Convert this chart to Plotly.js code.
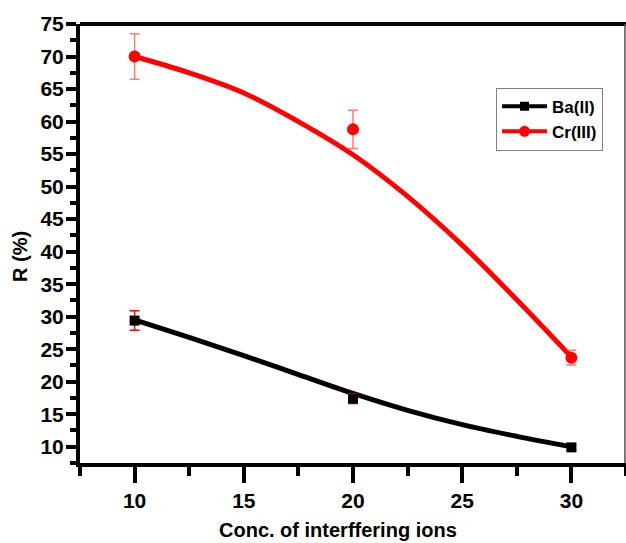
<!DOCTYPE html>
<html>
<head>
<meta charset="utf-8">
<script src="https://cdn.plot.ly/plotly-3.0.1.min.js"></script>
<style>html,body{margin:0;padding:0;background:#fff;}#chart{width:626px;height:543px;}</style>
</head>
<body>
<div id="chart"></div>
<script>
// measured data
var conc = [10, 20, 30];
var baR = [29.4, 17.4, 9.9];
var baErr = [1.5, 0.75, 0.4];
var crR = [70.0, 58.8, 23.7];
var crErr = [3.5, 2.95, 1.15];

// fitted curves
var fitX = [10, 12.5, 15, 17.5, 20, 22.5, 25, 27.5, 30];
var baFit = [29.5, 26.8, 24.0, 21.1, 18.2, 15.6, 13.4, 11.6, 10.0];
var crFit = [70.0, 67.5, 64.4, 60.0, 54.9, 48.5, 41.0, 32.6, 23.8];

var seriesNames = ['Ba(II)', 'Cr(III)'];
var xTitle = 'Conc. of interffering ions';
var yTitle = 'R (%)';

var FONT = 'Arial, "Liberation Sans", sans-serif';

var traces = [
  {x: fitX, y: baFit, mode: 'lines', line: {color: '#000', width: 5, shape: 'spline', smoothing: 1}, showlegend: false, hoverinfo: 'skip'},
  {x: fitX, y: crFit, mode: 'lines', line: {color: '#ff0000', width: 5, shape: 'spline', smoothing: 1}, showlegend: false, hoverinfo: 'skip'},
  {x: conc, y: baR, mode: 'markers', marker: {symbol: 'square', size: 10, color: '#000'},
   error_y: {type: 'data', array: baErr, visible: true, color: '#ff0000', thickness: 1.5, width: 5}, showlegend: false},
  {x: conc, y: crR, mode: 'markers', marker: {symbol: 'circle', size: 12, color: '#ff0000'},
   error_y: {type: 'data', array: crErr, visible: true, color: 'rgba(255,80,80,0.75)', thickness: 1.5, width: 5}, showlegend: false},
  {x: [null], y: [null], name: seriesNames[0], mode: 'lines+markers', line: {color: '#000', width: 4}, marker: {symbol: 'square', size: 9, color: '#000'}},
  {x: [null], y: [null], name: seriesNames[1], mode: 'lines+markers', line: {color: '#ff0000', width: 4}, marker: {symbol: 'circle', size: 11, color: '#ff0000'}}
];

var layout = {
  width: 626, height: 543,
  margin: {l: 80, r: 0, t: 24, b: 80},
  paper_bgcolor: '#fff', plot_bgcolor: '#fff',
  font: {family: FONT, color: '#000', weight: 'bold'},
  showlegend: true,
  legend: {x: 0.762, y: 0.855, xanchor: 'left', yanchor: 'top', bgcolor: '#fff', bordercolor: '#808080', borderwidth: 1,
           font: {family: FONT, size: 17, weight: 'bold', color: '#000'}, itemwidth: 45, tracegroupgap: 0},
  xaxis: {
    range: [7.5, 32.5], tick0: 10, dtick: 5, showgrid: false, zeroline: false,
    showline: true, linecolor: '#000', linewidth: 4,
    ticks: 'outside', ticklen: 16, tickwidth: 4, tickcolor: '#000',
    minor: {dtick: 2.5, tick0: 7.5, ticks: 'outside', ticklen: 9, tickwidth: 4, tickcolor: '#000', showgrid: false},
    tickfont: {family: FONT, size: 21, weight: 'bold'}
  },
  yaxis: {
    range: [7.5, 75], tick0: 10, dtick: 5, showgrid: false, zeroline: false,
    showline: true, linecolor: '#000', linewidth: 4,
    ticks: 'outside', ticklen: 10, tickwidth: 4, tickcolor: '#000',
    minor: {dtick: 2.5, tick0: 7.5, ticks: 'outside', ticklen: 6, tickwidth: 4, tickcolor: '#000', showgrid: false},
    tickfont: {family: FONT, size: 21, weight: 'bold'}, ticklabelstandoff: -2
  },
  annotations: [
    {text: xTitle, xref: 'paper', yref: 'paper', x: 0.4725, y: -0.1526, xanchor: 'center', yanchor: 'middle', showarrow: false,
     font: {family: FONT, size: 20, weight: 'bold', color: '#000'}},
    {text: yTitle, xref: 'paper', yref: 'paper', x: -0.11, y: 0.4715, xanchor: 'center', yanchor: 'middle', textangle: -90, showarrow: false,
     font: {family: FONT, size: 20, weight: 'bold', color: '#000'}}
  ],
  shapes: [
    {type: 'line', xref: 'paper', yref: 'paper', x0: 0, x1: 1, y0: 1, y1: 1, line: {color: '#000', width: 4}},
    {type: 'line', xref: 'paper', yref: 'paper', x0: 0.998, x1: 0.998, y0: 0, y1: 1, line: {color: '#555', width: 1.5}}
  ]
};

Plotly.newPlot('chart', traces, layout, {displayModeBar: false, staticPlot: true});
</script>
</body>
</html>
